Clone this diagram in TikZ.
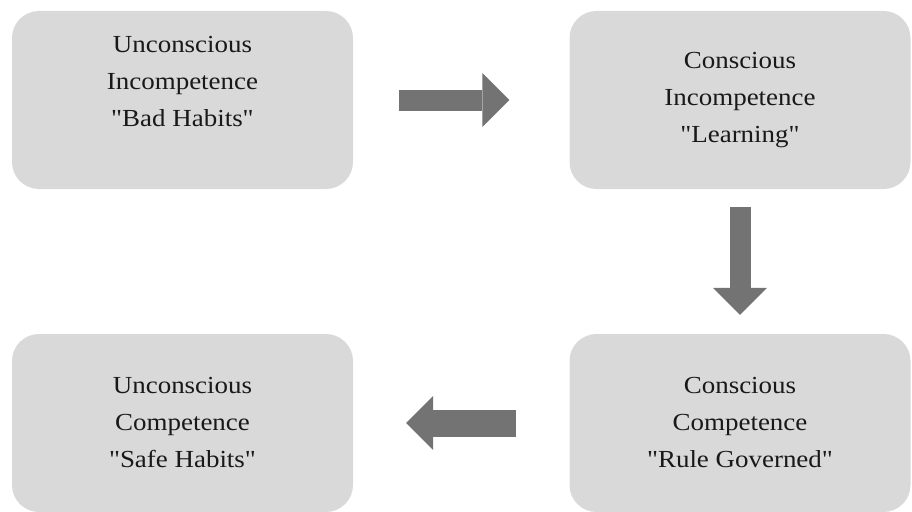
\documentclass[tikz,border=0pt]{standalone}
\usepackage{fontspec}
\setmainfont{Liberation Serif}
\newfontfamily\stagefont[FakeStretch=1.1]{Liberation Serif}
\usetikzlibrary{arrows.meta}
\definecolor{boxgray}{HTML}{D9D9D9}
\definecolor{arrowgray}{HTML}{737373}
\tikzset{
  stage/.style={fill=boxgray,rounded corners=27pt,minimum width=341pt,minimum height=178pt,
    inner sep=0pt,align=center,text=black!90,font=\stagefont\fontsize{24.5}{37}\selectfont},
  flow/.style={draw=arrowgray,line width=21pt,
    -{Triangle[length=27pt,width=54pt,line width=0pt]}},
}
\begin{document}
\begin{tikzpicture}[x=1pt,y=-1pt]
        % 枠
        \useasboundingbox (0,0) rectangle (912,511);
        % 四つの段階
        \node[stage] (UI) at (182.5,100) {Unconscious\\Incompetence\\"Bad Habits"\\\mbox{}};
        \node[stage] (CI) at (740,100) {Conscious\\Incompetence\\"Learning"};
        \node[stage] (CC) at (740,423) {Conscious\\Competence\\"Rule Governed"};
        \node[stage] (UC) at (182.5,423) {Unconscious\\Competence\\"Safe Habits"};
        % 矢印
        \draw[flow,shorten <=46pt,shorten >=60pt] (UI.east) -- (CI.west);
        \draw[flow,shorten <=18pt,shorten >=19pt] (CI.south) -- (CC.north);
        \draw[flow,line width=27pt,shorten <=53pt,shorten >=53pt] (CC.west) -- (UC.east);
    \end{tikzpicture}
\end{document}
